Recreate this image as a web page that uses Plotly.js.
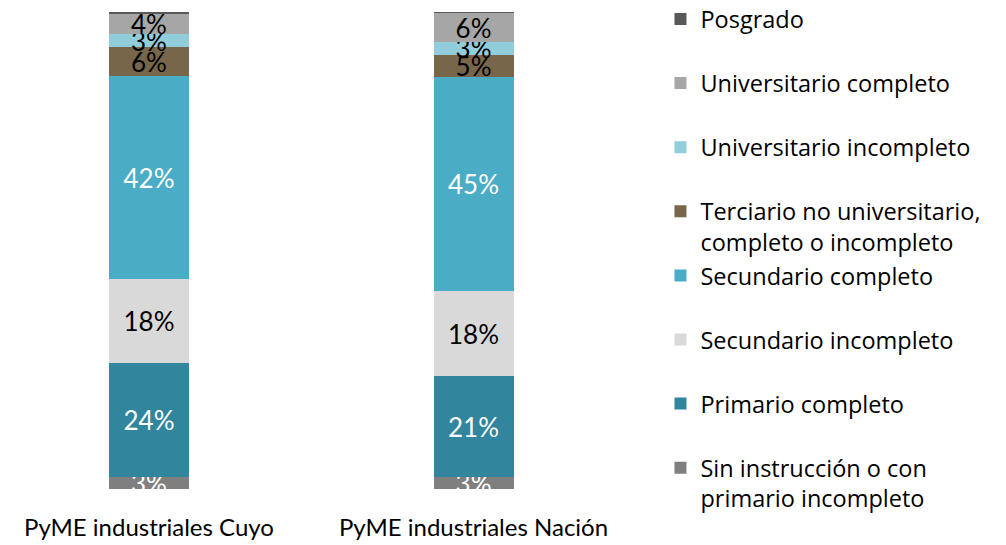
<!DOCTYPE html>
<html>
<head>
<meta charset="utf-8">
<script src="https://cdn.plot.ly/plotly-3.0.1.min.js"></script>
<style>html,body{margin:0;padding:0;background:#fff;}#chart{width:1006px;height:545px;}</style>
</head>
<body>
<div id="chart"></div>
<script>
const categories = ["PyME industriales Cuyo", "PyME industriales Nación"];
const seriesNames = [
  "Sin instrucción o con<br>primario incompleto",
  "Primario completo<br>&nbsp;",
  "Secundario incompleto<br>&nbsp;",
  "Secundario completo<br>&nbsp;",
  "Terciario no universitario,<br>completo o incompleto",
  "Universitario incompleto<br>&nbsp;",
  "Universitario completo<br>&nbsp;",
  "Posgrado<br>&nbsp;"
];
const sinInstruccion = [2.6, 2.6];
const primarioCompleto = [23.9, 21.0];
const secundarioIncompleto = [17.6, 18.0];
const secundarioCompleto = [42.4, 44.8];
const terciario = [6.1, 4.6];
const universitarioIncompleto = [2.7, 2.7];
const universitarioCompleto = [4.2, 6.0];
const posgrado = [0.4, 0.4];
const showLabel = [true, true, true, true, true, true, true, false];

const colors = ["#7F7F7F", "#31859C", "#D9D9D9", "#4BACC6", "#77664A", "#92CDDC", "#A6A6A6", "#595959"];
const labelColors = ["#FFFFFF", "#FFFFFF", "#000000", "#FFFFFF", "#000000", "#000000", "#000000", "#000000"];
const series = [sinInstruccion, primarioCompleto, secundarioIncompleto, secundarioCompleto, terciario, universitarioIncompleto, universitarioCompleto, posgrado];

const FONT = "Lato, 'Open Sans', sans-serif";
const LEGEND_FONT = "'Open Sans', Lato, sans-serif";
const traces = series.map((vals, i) => ({
  type: "bar",
  name: seriesNames[i],
  x: categories,
  y: vals,
  width: 0.2465,
  marker: {color: colors[i], line: {width: 0}},
  text: showLabel[i] ? vals.map(v => Math.round(v) + "%") : vals.map(() => ""),
  textposition: "inside",
  insidetextanchor: "middle",
  textangle: 0,
  constraintext: "none",
  insidetextfont: {family: FONT, size: 26, color: labelColors[i]},
  hoverinfo: "none"
}));

const layout = {
  width: 1006, height: 545,
  barmode: "stack",
  paper_bgcolor: "#FFFFFF",
  plot_bgcolor: "#FFFFFF",
  margin: {l: 0, r: 366, t: 12, b: 56, pad: 0, autoexpand: false},
  font: {family: FONT, size: 24, color: "#000000"},
  xaxis: {
    type: "category",
    range: [-0.459, 1.513],
    showgrid: false, zeroline: false, showline: false, ticks: "",
    ticklabelstandoff: 22,
    tickfont: {family: FONT, size: 24, color: "#000000"},
    fixedrange: true
  },
  yaxis: {
    range: [0, 100],
    visible: false,
    showgrid: false, zeroline: false,
    fixedrange: true
  },
  showlegend: true,
  legend: {
    x: 1.032, xanchor: "left",
    y: 1.031, yanchor: "top",
    maxheight: 545,
    traceorder: "reversed",
    valign: "top",
    itemwidth: 30,
    tracegroupgap: 0,
    font: {family: LEGEND_FONT, size: 23.5, color: "#000000"},
    bgcolor: "rgba(0,0,0,0)",
    borderwidth: 0
  }
};

Plotly.newPlot("chart", traces, layout, {staticPlot: true, displayModeBar: false});
</script>
</body>
</html>
